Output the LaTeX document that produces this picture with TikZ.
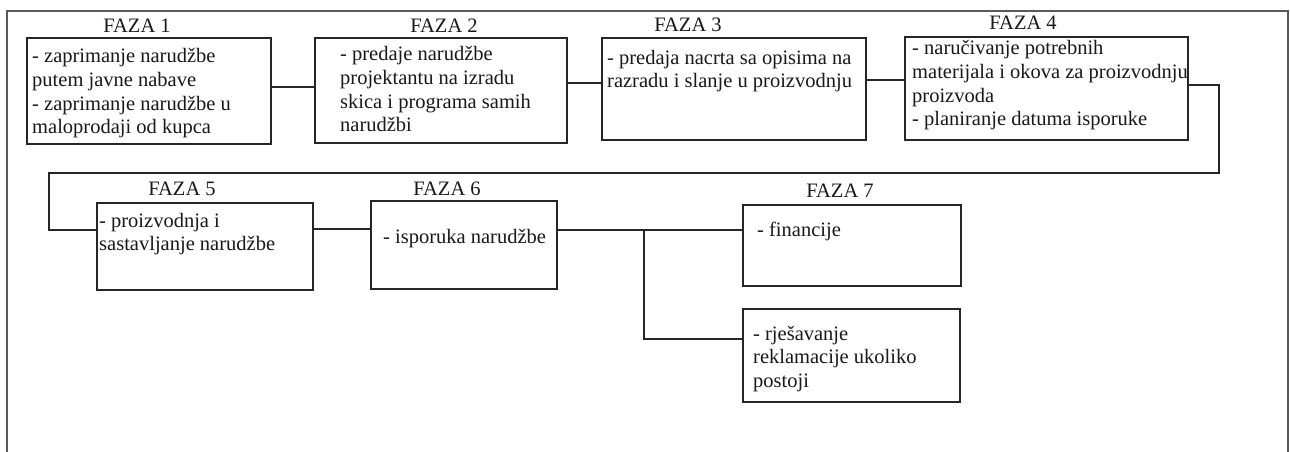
\documentclass[tikz,border=0pt]{standalone}
\usepackage{fontspec}
\setmainfont{Liberation Serif}
\begin{document}
\begin{tikzpicture}[x=1pt,y=-1pt,
  box/.style={draw=black!85,line width=1.5pt,rectangle,inner sep=0pt},
  conn/.style={draw=black!85,line width=1.4pt},
  frame/.style={draw=black!65,line width=2pt},
  txt/.style={anchor=base west,inner sep=0pt,font=\fontsize{20.5}{23.6}\selectfont,text=black!90},
  ttl/.style={anchor=base,inner sep=0pt,font=\fontsize{20.5}{23.6}\selectfont,text=black!90}]
\useasboundingbox (0,0) rectangle (1290,452);
\fill[white] (0,0) rectangle (1290,452);
\draw[frame] (7,453) -- (7,11) -- (1288,11) -- (1288,453);
% boxes
\node[box,minimum width=244pt,minimum height=106pt] (b1) at (149,91) {};
\node[box,minimum width=252pt,minimum height=105pt] (b2) at (441,90.5) {};
\node[box,minimum width=264pt,minimum height=102pt] (b3) at (734,89) {};
\node[box,minimum width=283pt,minimum height=103pt] (b4) at (1046.5,88.5) {};
\node[box,minimum width=216pt,minimum height=87pt] (b5) at (205,246.5) {};
\node[box,minimum width=186pt,minimum height=88pt] (b6) at (464,245) {};
\node[box,minimum width=218pt,minimum height=81pt] (b7) at (852,245.5) {};
\node[box,minimum width=217pt,minimum height=93pt] (b8) at (851.5,355.5) {};
% titles
\node[ttl] (f1) at (137,33) {FAZA 1};
\node[ttl] (f2) at (444,33) {FAZA 2};
\node[ttl] (f3) at (688,32) {FAZA 3};
\node[ttl] (f4) at (1023,30) {FAZA 4};
\node[ttl] (f5) at (182,195) {FAZA 5};
\node[ttl] (f6) at (447,195) {FAZA 6};
\node[ttl] (f7) at (840,197) {FAZA 7};
% texts
\node[txt] (t1) at (32,63) {\parbox[t]{300pt}{\raggedright - zaprimanje narudžbe\\putem javne nabave\\- zaprimanje narudžbe u\\maloprodaji od kupca}};
\node[txt] (t2) at (340,61) {\parbox[t]{300pt}{\raggedright - predaje narudžbe\\projektantu na izradu\\skica i programa samih\\narudžbi}};
\node[txt] (t3) at (607,64) {\parbox[t]{300pt}{\raggedright - predaja nacrta sa opisima na\\razradu i slanje u proizvodnju}};
\node[txt] (t4) at (912,55) {\parbox[t]{300pt}{\raggedright - naručivanje potrebnih\\materijala i okova za proizvodnju\\proizvoda\\- planiranje datuma isporuke}};
\node[txt] (t5) at (99,227) {\parbox[t]{300pt}{\raggedright - proizvodnja i\\sastavljanje narudžbe}};
\node[txt] (t6) at (383,243) {- isporuka narudžbe};
\node[txt] (t7) at (757,236) {- financije};
\node[txt] (t8) at (753,340) {\parbox[t]{300pt}{\raggedright - rješavanje\\reklamacije ukoliko\\postoji}};
% connectors
\coordinate (k1) at (1219,173);
\coordinate (k2) at (49,230);
\coordinate (br) at (644,230);
\draw[conn] (b1.east |- 0,87) -- (b2.west |- 0,87);
\draw[conn] (b2.east |- 0,83) -- (b3.west |- 0,83);
\draw[conn] (b3.east |- 0,80) -- (b4.west |- 0,80);
\draw[conn] (b4.east |- 0,85) -| (k1) -| (k2) -- (b5.west |- k2);
\draw[conn] (b5.east |- 0,229) -- (b6.west |- 0,229);
\draw[conn] (b6.east |- br) -- (b7.west |- br);
\draw[conn] (br) |- (b8.west |- 0,339);
\end{tikzpicture}
\end{document}
